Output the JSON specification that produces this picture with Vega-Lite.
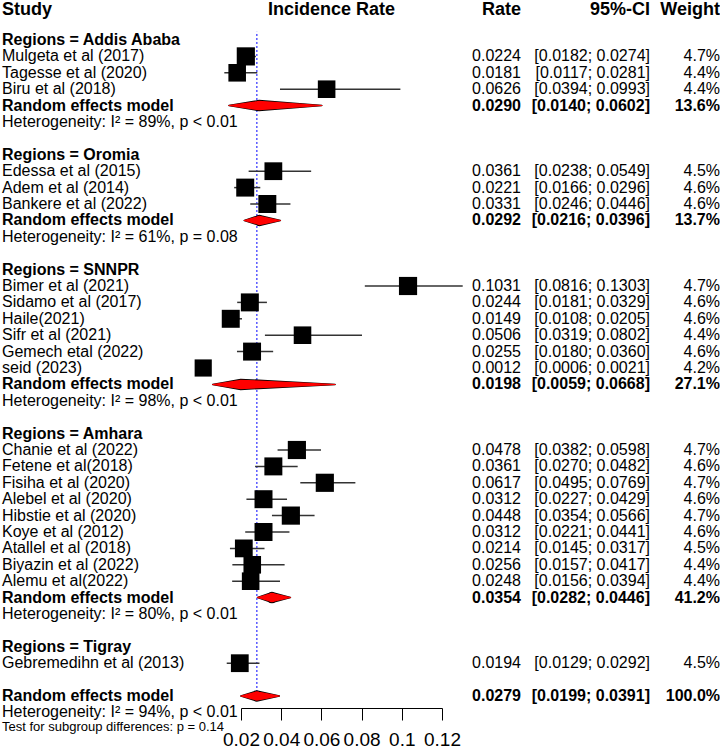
{
  "$schema": "https://vega.github.io/schema/vega-lite/v6.json",
  "padding": 0,
  "bounds": "flush",
  "spacing": 0,
  "background": "white",
  "config": {"view": {"stroke": null}, "text": {"font": "Liberation Sans", "color": "black"}},
  "datasets": {
    "rows": [
      {"r": 0, "type": "group", "label": "Regions = Addis Ababa"},
      {"r": 1, "type": "study", "label": "Mulgeta et al (2017)", "rate": 0.0224, "lo": 0.0182, "hi": 0.0274, "w": 0.047},
      {"r": 2, "type": "study", "label": "Tagesse et al (2020)", "rate": 0.0181, "lo": 0.0117, "hi": 0.0281, "w": 0.044},
      {"r": 3, "type": "study", "label": "Biru et al (2018)", "rate": 0.0626, "lo": 0.0394, "hi": 0.0993, "w": 0.044},
      {"r": 4, "type": "re", "label": "Random effects model", "rate": 0.0290, "lo": 0.0140, "hi": 0.0602, "w": 0.136},
      {"r": 5, "type": "het", "label": "Heterogeneity: I² = 89%, p < 0.01"},
      {"r": 7, "type": "group", "label": "Regions = Oromia"},
      {"r": 8, "type": "study", "label": "Edessa et al (2015)", "rate": 0.0361, "lo": 0.0238, "hi": 0.0549, "w": 0.045},
      {"r": 9, "type": "study", "label": "Adem et al (2014)", "rate": 0.0221, "lo": 0.0166, "hi": 0.0296, "w": 0.046},
      {"r": 10, "type": "study", "label": "Bankere et al (2022)", "rate": 0.0331, "lo": 0.0246, "hi": 0.0446, "w": 0.046},
      {"r": 11, "type": "re", "label": "Random effects model", "rate": 0.0292, "lo": 0.0216, "hi": 0.0396, "w": 0.137},
      {"r": 12, "type": "het", "label": "Heterogeneity: I² = 61%, p = 0.08"},
      {"r": 14, "type": "group", "label": "Regions = SNNPR"},
      {"r": 15, "type": "study", "label": "Bimer et al (2021)", "rate": 0.1031, "lo": 0.0816, "hi": 0.1303, "w": 0.047},
      {"r": 16, "type": "study", "label": "Sidamo et al (2017)", "rate": 0.0244, "lo": 0.0181, "hi": 0.0329, "w": 0.046},
      {"r": 17, "type": "study", "label": "Haile(2021)", "rate": 0.0149, "lo": 0.0108, "hi": 0.0205, "w": 0.046},
      {"r": 18, "type": "study", "label": "Sifr et al (2021)", "rate": 0.0506, "lo": 0.0319, "hi": 0.0802, "w": 0.044},
      {"r": 19, "type": "study", "label": "Gemech etal (2022)", "rate": 0.0255, "lo": 0.0180, "hi": 0.0360, "w": 0.046},
      {"r": 20, "type": "study", "label": "seid (2023)", "rate": 0.0012, "lo": 0.0006, "hi": 0.0021, "w": 0.042},
      {"r": 21, "type": "re", "label": "Random effects model", "rate": 0.0198, "lo": 0.0059, "hi": 0.0668, "w": 0.271},
      {"r": 22, "type": "het", "label": "Heterogeneity: I² = 98%, p < 0.01"},
      {"r": 24, "type": "group", "label": "Regions = Amhara"},
      {"r": 25, "type": "study", "label": "Chanie et al (2022)", "rate": 0.0478, "lo": 0.0382, "hi": 0.0598, "w": 0.047},
      {"r": 26, "type": "study", "label": "Fetene et al(2018)", "rate": 0.0361, "lo": 0.0270, "hi": 0.0482, "w": 0.046},
      {"r": 27, "type": "study", "label": "Fisiha  et al (2020)", "rate": 0.0617, "lo": 0.0495, "hi": 0.0769, "w": 0.047},
      {"r": 28, "type": "study", "label": "Alebel et al (2020)", "rate": 0.0312, "lo": 0.0227, "hi": 0.0429, "w": 0.046},
      {"r": 29, "type": "study", "label": "Hibstie et al (2020)", "rate": 0.0448, "lo": 0.0354, "hi": 0.0566, "w": 0.047},
      {"r": 30, "type": "study", "label": "Koye et al (2012)", "rate": 0.0312, "lo": 0.0221, "hi": 0.0441, "w": 0.046},
      {"r": 31, "type": "study", "label": "Atallel et al (2018)", "rate": 0.0214, "lo": 0.0145, "hi": 0.0317, "w": 0.045},
      {"r": 32, "type": "study", "label": "Biyazin et al (2022)", "rate": 0.0256, "lo": 0.0157, "hi": 0.0417, "w": 0.044},
      {"r": 33, "type": "study", "label": "Alemu et al(2022)", "rate": 0.0248, "lo": 0.0156, "hi": 0.0394, "w": 0.044},
      {"r": 34, "type": "re", "label": "Random effects model", "rate": 0.0354, "lo": 0.0282, "hi": 0.0446, "w": 0.412},
      {"r": 35, "type": "het", "label": "Heterogeneity: I² = 80%, p < 0.01"},
      {"r": 37, "type": "group", "label": "Regions = Tigray"},
      {"r": 38, "type": "study", "label": "Gebremedihn et al (2013)", "rate": 0.0194, "lo": 0.0129, "hi": 0.0292, "w": 0.045},
      {"r": 40, "type": "overall", "label": "Random effects model", "rate": 0.0279, "lo": 0.0199, "hi": 0.0391, "w": 1.0},
      {"r": 41, "type": "het", "label": "Heterogeneity: I² = 94%, p < 0.01"},
      {"r": 41.9, "type": "test", "label": "Test for subgroup differences: p = 0.14"}
    ]
  },
  "hconcat": [
    {
      "width": 241,
      "height": 750,
      "data": {"name": "rows"},
      "layer": [
        {
          "data": {"values": [{"h": "Study"}]},
          "mark": {"type": "text", "align": "left", "baseline": "middle", "fontSize": 18, "fontWeight": "bold", "dx": 2},
          "encoding": {
            "text": {"field": "h", "type": "nominal"},
            "x": {"datum": 0, "type": "quantitative", "scale": {"domain": [0, 1]}, "axis": null},
            "y": {"datum": -1.85, "type": "quantitative", "scale": {"domain": [-2.439, 43.293], "reverse": true, "nice": false, "zero": false}, "axis": null}
          }
        },
        {
          "transform": [{"filter": "datum.type == 'group' || datum.type == 're' || datum.type == 'overall'"}],
          "mark": {"type": "text", "align": "left", "baseline": "middle", "fontSize": 16, "fontWeight": "bold", "dx": 2},
          "encoding": {
            "text": {"field": "label", "type": "nominal"},
            "x": {"datum": 0, "type": "quantitative"},
            "y": {"field": "r", "type": "quantitative"}
          }
        },
        {
          "transform": [{"filter": "datum.type == 'study' || datum.type == 'het'"}],
          "mark": {"type": "text", "align": "left", "baseline": "middle", "fontSize": 16, "dx": 2},
          "encoding": {
            "text": {"field": "label", "type": "nominal"},
            "x": {"datum": 0, "type": "quantitative"},
            "y": {"field": "r", "type": "quantitative"}
          }
        },
        {
          "transform": [{"filter": "datum.type == 'test'"}],
          "mark": {"type": "text", "align": "left", "baseline": "middle", "fontSize": 13, "dx": 2},
          "encoding": {
            "text": {"field": "label", "type": "nominal"},
            "x": {"datum": 0, "type": "quantitative"},
            "y": {"field": "r", "type": "quantitative"}
          }
        }
      ]
    },
    {
      "width": 201,
      "height": 708,
      "data": {"name": "rows"},
      "layer": [
        {
          "transform": [{"filter": "datum.type == 'overall'"}],
          "mark": {"type": "rule", "color": "#0000ff", "strokeDash": [2, 2], "strokeWidth": 1},
          "encoding": {
            "x": {"field": "rate", "type": "quantitative", "title": null, "scale": {"domain": [0.02, 0.12], "nice": false, "zero": false},
              "axis": {"values": [0.02, 0.04, 0.06, 0.08, 0.1, 0.12], "format": ".2~f", "title": null, "grid": false,
                "domainColor": "black", "domainWidth": 1, "tickColor": "black", "tickWidth": 1, "tickSize": 12,
                "labelFontSize": 19, "labelFont": "Liberation Sans", "labelColor": "black", "labelPadding": 10,
                "labelFlush": false, "labelOverlap": false}},
            "y": {"field": "r", "type": "quantitative", "scale": {"domain": [-2.439, 40.732], "reverse": true, "nice": false, "zero": false}, "axis": null},
            "y2": {"datum": -0.5}
          }
        },
        {
          "transform": [{"filter": "datum.type == 'study'"}],
          "mark": {"type": "rule", "color": "#333333", "strokeWidth": 1.5},
          "encoding": {
            "x": {"field": "lo", "type": "quantitative", "title": null},
            "x2": {"field": "hi"},
            "y": {"field": "r", "type": "quantitative", "title": null}
          }
        },
        {
          "transform": [{"filter": "datum.type == 'study'"}],
          "mark": {"type": "point", "shape": "square", "filled": true, "color": "black", "opacity": 1},
          "encoding": {
            "x": {"field": "rate", "type": "quantitative", "title": null},
            "y": {"field": "r", "type": "quantitative", "title": null},
            "size": {"field": "w", "type": "quantitative", "scale": {"domain": [0, 0.047], "range": [0, 330]}, "legend": null}
          }
        },
        {
          "transform": [
            {"filter": "datum.type == 're' || datum.type == 'overall'"},
            {"fold": ["lo", "rate", "hi"], "as": ["k", "xv"]},
            {"calculate": "datum.k == 'rate' ? 11.5 : 1.5", "as": "hw"}
          ],
          "mark": {"type": "trail", "color": "black"},
          "encoding": {
            "x": {"field": "xv", "type": "quantitative", "title": null},
            "y": {"field": "r", "type": "quantitative", "title": null},
            "detail": {"field": "r", "type": "nominal"},
            "size": {"field": "hw", "type": "quantitative", "scale": null, "legend": null}
          }
        },
        {
          "transform": [
            {"filter": "datum.type == 're' || datum.type == 'overall'"},
            {"fold": ["lo", "rate", "hi"], "as": ["k", "xv"]},
            {"calculate": "datum.k == 'rate' ? 9.5 : 0", "as": "hr"}
          ],
          "mark": {"type": "trail", "color": "#ff0000"},
          "encoding": {
            "x": {"field": "xv", "type": "quantitative", "title": null},
            "y": {"field": "r", "type": "quantitative", "title": null},
            "detail": {"field": "r", "type": "nominal"},
            "size": {"field": "hr", "type": "quantitative", "scale": null, "legend": null}
          }
        },
        {
          "data": {"values": [{"h": "Incidence Rate"}]},
          "mark": {"type": "text", "align": "center", "baseline": "middle", "fontSize": 18, "fontWeight": "bold"},
          "encoding": {
            "text": {"field": "h", "type": "nominal"},
            "x": {"datum": 0.065, "type": "quantitative", "title": null},
            "y": {"datum": -1.85, "type": "quantitative", "title": null}
          }
        }
      ],
      "resolve": {"scale": {"size": "independent"}}
    },
    {
      "width": 79,
      "height": 750,
      "data": {"name": "rows"},
      "layer": [
        {
          "data": {"values": [{"h": "Rate"}]},
          "mark": {"type": "text", "align": "right", "baseline": "middle", "fontSize": 18, "fontWeight": "bold"},
          "encoding": {
            "text": {"field": "h", "type": "nominal"},
            "x": {"datum": 1, "type": "quantitative", "scale": {"domain": [0, 1]}, "axis": null},
            "y": {"datum": -1.85, "type": "quantitative", "scale": {"domain": [-2.439, 43.293], "reverse": true, "nice": false, "zero": false}, "axis": null}
          }
        },
        {
          "transform": [{"filter": "datum.type == 'study'"}],
          "mark": {"type": "text", "align": "right", "baseline": "middle", "fontSize": 16},
          "encoding": {
            "text": {"field": "rate", "type": "quantitative", "format": ".4f"},
            "x": {"datum": 1, "type": "quantitative"},
            "y": {"field": "r", "type": "quantitative"}
          }
        },
        {
          "transform": [{"filter": "datum.type == 're' || datum.type == 'overall'"}],
          "mark": {"type": "text", "align": "right", "baseline": "middle", "fontSize": 16, "fontWeight": "bold"},
          "encoding": {
            "text": {"field": "rate", "type": "quantitative", "format": ".4f"},
            "x": {"datum": 1, "type": "quantitative"},
            "y": {"field": "r", "type": "quantitative"}
          }
        }
      ]
    },
    {
      "width": 129,
      "height": 750,
      "data": {"name": "rows"},
      "layer": [
        {
          "data": {"values": [{"h": "95%-CI"}]},
          "mark": {"type": "text", "align": "right", "baseline": "middle", "fontSize": 18, "fontWeight": "bold"},
          "encoding": {
            "text": {"field": "h", "type": "nominal"},
            "x": {"datum": 1, "type": "quantitative", "scale": {"domain": [0, 1]}, "axis": null},
            "y": {"datum": -1.85, "type": "quantitative", "scale": {"domain": [-2.439, 43.293], "reverse": true, "nice": false, "zero": false}, "axis": null}
          }
        },
        {
          "transform": [
            {"filter": "datum.type == 'study'"},
            {"calculate": "'[' + format(datum.lo, '.4f') + '; ' + format(datum.hi, '.4f') + ']'", "as": "ci"}
          ],
          "mark": {"type": "text", "align": "right", "baseline": "middle", "fontSize": 16},
          "encoding": {
            "text": {"field": "ci", "type": "nominal"},
            "x": {"datum": 1, "type": "quantitative"},
            "y": {"field": "r", "type": "quantitative"}
          }
        },
        {
          "transform": [
            {"filter": "datum.type == 're' || datum.type == 'overall'"},
            {"calculate": "'[' + format(datum.lo, '.4f') + '; ' + format(datum.hi, '.4f') + ']'", "as": "ci"}
          ],
          "mark": {"type": "text", "align": "right", "baseline": "middle", "fontSize": 16, "fontWeight": "bold"},
          "encoding": {
            "text": {"field": "ci", "type": "nominal"},
            "x": {"datum": 1, "type": "quantitative"},
            "y": {"field": "r", "type": "quantitative"}
          }
        }
      ]
    },
    {
      "width": 70,
      "height": 750,
      "data": {"name": "rows"},
      "layer": [
        {
          "data": {"values": [{"h": "Weight"}]},
          "mark": {"type": "text", "align": "right", "baseline": "middle", "fontSize": 18, "fontWeight": "bold"},
          "encoding": {
            "text": {"field": "h", "type": "nominal"},
            "x": {"datum": 1, "type": "quantitative", "scale": {"domain": [0, 1]}, "axis": null},
            "y": {"datum": -1.85, "type": "quantitative", "scale": {"domain": [-2.439, 43.293], "reverse": true, "nice": false, "zero": false}, "axis": null}
          }
        },
        {
          "transform": [{"filter": "datum.type == 'study'"}],
          "mark": {"type": "text", "align": "right", "baseline": "middle", "fontSize": 16},
          "encoding": {
            "text": {"field": "w", "type": "quantitative", "format": ".1%"},
            "x": {"datum": 1, "type": "quantitative"},
            "y": {"field": "r", "type": "quantitative"}
          }
        },
        {
          "transform": [{"filter": "datum.type == 're' || datum.type == 'overall'"}],
          "mark": {"type": "text", "align": "right", "baseline": "middle", "fontSize": 16, "fontWeight": "bold"},
          "encoding": {
            "text": {"field": "w", "type": "quantitative", "format": ".1%"},
            "x": {"datum": 1, "type": "quantitative"},
            "y": {"field": "r", "type": "quantitative"}
          }
        }
      ]
    }
  ]
}
